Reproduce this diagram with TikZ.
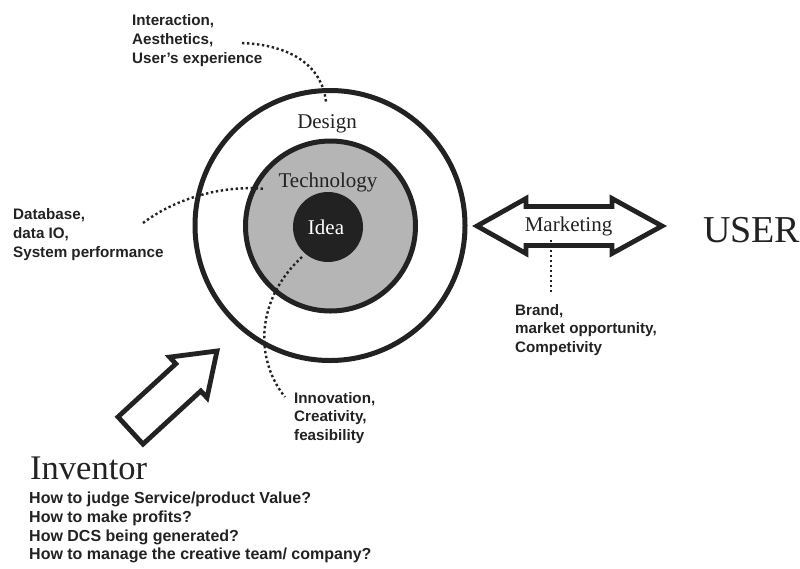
\documentclass[tikz,border=0pt]{standalone}
\usepackage{fontspec}
\setmainfont{Liberation Serif}
\newfontfamily\notefont{Liberation Sans}
\usetikzlibrary{calc}
\definecolor{ink}{HTML}{222222}
\definecolor{techgray}{HTML}{B5B5B5}
\definecolor{ideafill}{HTML}{222222}
\begin{document}
\begin{tikzpicture}[x=1pt,y=-1pt,
  ring/.style={draw=ink, line width=5pt},
  dots/.style={draw=ink, line width=2.4pt, dash pattern=on 2.4pt off 2.6pt},
  outlinearrow/.style={draw=ink, line width=4.8pt, line join=miter, fill=white},
  note/.style={font=\notefont\bfseries\fontsize{15.2}{18.7}\selectfont, text=ink,
    align=left, inner sep=0pt, anchor=north west},
  question/.style={font=\notefont\bfseries\fontsize{16}{18.6}\selectfont, text=ink,
    align=left, inner sep=0pt, anchor=north west},
  layer/.style={font=\fontsize{21}{24}\selectfont, text=ink, inner sep=0pt, anchor=base},
  actor/.style={text=ink, inner sep=0pt, anchor=base west}]
\useasboundingbox (0,0) rectangle (800,568);

% concentric layers: Design, Technology, Idea
\node[ring, circle, minimum size=270pt, inner sep=0pt] (design) at (330,225.5) {};
\node[ring, circle, fill=techgray, minimum size=170pt, inner sep=0pt] (tech) at (330.5,226) {};
\node[circle, fill=ideafill, minimum size=70pt, inner sep=0pt] (idea) at (328,227) {};

\node[layer] (designlbl) at (327,128) {Design};
\node[layer] (techlbl) at (328,187) {Technology};
\node[layer, text=white] (idealbl) at (326,234) {Idea};

% Marketing double arrow
\draw[outlinearrow] (477,226) -- (526,198.5) -- (526,206.5) -- (612,206.5) -- (612,198.5)
  -- (662,226) -- (612,253.5) -- (612,245.5) -- (526,245.5) -- (526,253.5) -- cycle;
\node[layer] (market) at (568.5,231.7) {Marketing};

% Inventor arrow pointing at the layers
\draw[outlinearrow] (217,351) -- (207,397.7) -- (200.8,391) -- (143,444.1) -- (118,416.9)
  -- (175.8,363.8) -- (169.6,357.1) -- cycle;

% actors
\node[actor, font=\fontsize{38}{40}\selectfont] (user) at (703,242) {USER};
\node[actor, font=\fontsize{34.5}{38}\selectfont] (inventor) at (30,479.5) {Inventor};

% notes
\node[note] (designnote) at (132,14.5) {Interaction,\\Aesthetics,\\User’s experience};
\node[note] (technote) at (13,208.5) {Database,\\data IO,\\System performance};
\node[note] (ideanote) at (294,392) {Innovation,\\Creativity,\\feasibility};
\node[note] (marketnote) at (515,304) {Brand,\\market opportunity,\\Competivity};
\node[question] (questions) at (29,492) {How to judge Service/product Value?\\How to make profits?\\How DCS being generated?\\How to manage the creative team/ company?};

% dotted leaders from the notes into the layers
\coordinate (designA) at (242,43);
\coordinate (designB) at (326,102);
\coordinate (techA) at (143,223);
\coordinate (techB) at (265,189);
\coordinate (ideaA) at (302,257);
\coordinate (ideaB) at (285,397);
\coordinate (marketA) at (551,240);
\coordinate (marketB) at (551,293);
\draw[dots] (designA) .. controls (290,45) and (322,65) .. (designB);
\draw[dots] (techA) .. controls (180,195) and (230,185) .. (techB);
\draw[dots] (ideaA) .. controls (255,300) and (255,360) .. (ideaB);
\draw[dots] (marketA) -- (marketB);
\end{tikzpicture}
\end{document}
